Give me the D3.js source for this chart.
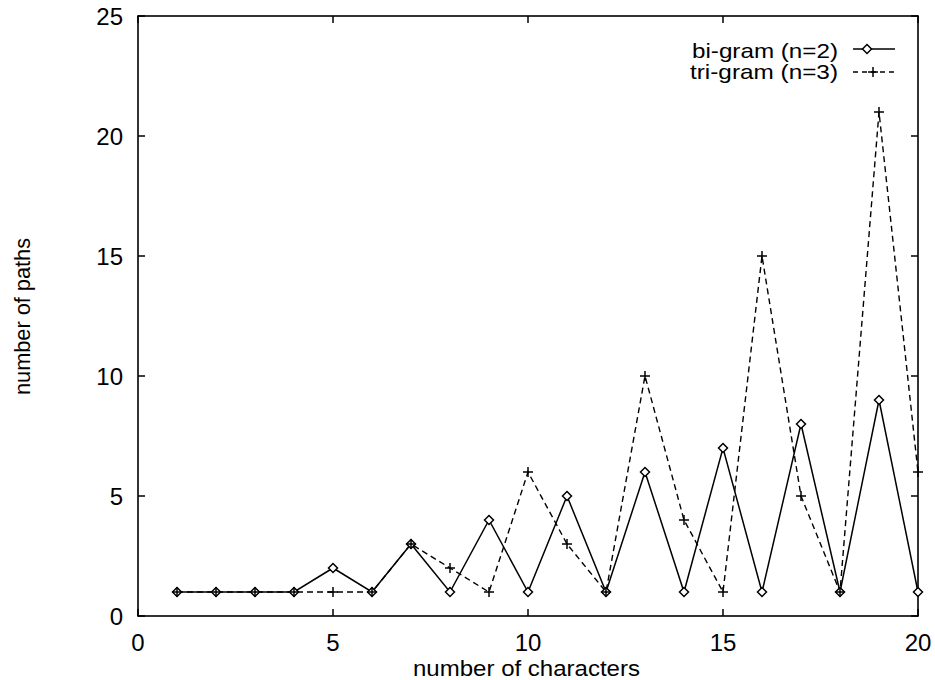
<!DOCTYPE html>
<html><head><meta charset="utf-8">
<script src="https://cdn.jsdelivr.net/npm/d3@7"></script>
<style>body{margin:0;background:#fff;} svg{display:block;} text{font-family:"Liberation Sans",Arial,sans-serif;fill:#000;}</style>
</head><body>
<svg id="chart" width="935" height="680"></svg>
<script>
const xValues = [1,2,3,4,5,6,7,8,9,10,11,12,13,14,15,16,17,18,19,20];
const bigram = [1,1,1,1,2,1,3,1,4,1,5,1,6,1,7,1,8,1,9,1];
const trigram = [1,1,1,1,1,1,3,2,1,6,3,1,10,4,1,15,5,1,21,6];
const xTicks = [0,5,10,15,20];
const yTicks = [0,5,10,15,20,25];
const seriesNames = ["bi-gram (n=2)", "tri-gram (n=3)"];
const xTitle = "number of characters";
const yTitle = "number of paths";

const svg = d3.select("#chart");
const L = 138, R = 918, T = 16, B = 616;
const x = d3.scaleLinear().domain([0,20]).range([L,R]);
const y = d3.scaleLinear().domain([0,25]).range([B,T]);
const fs = 24;

// frame
svg.append("rect").attr("x",L).attr("y",T).attr("width",R-L).attr("height",B-T)
  .attr("fill","none").attr("stroke","#000").attr("stroke-width",1.6);

// ticks (inward, mirrored)
const tl = 7;
xTicks.forEach(v => {
  svg.append("line").attr("x1",x(v)).attr("x2",x(v)).attr("y1",B).attr("y2",B-tl).attr("stroke","#000").attr("stroke-width",1.5);
  svg.append("line").attr("x1",x(v)).attr("x2",x(v)).attr("y1",T).attr("y2",T+tl).attr("stroke","#000").attr("stroke-width",1.5);
  svg.append("text").attr("x",x(v)).attr("y",642).attr("text-anchor","middle").attr("dominant-baseline","central")
    .attr("font-size",fs).text(v);
});
yTicks.forEach(v => {
  svg.append("line").attr("x1",L).attr("x2",L+tl).attr("y1",y(v)).attr("y2",y(v)).attr("stroke","#000").attr("stroke-width",1.5);
  svg.append("line").attr("x1",R).attr("x2",R-tl).attr("y1",y(v)).attr("y2",y(v)).attr("stroke","#000").attr("stroke-width",1.5);
  svg.append("text").attr("x",123).attr("y",y(v)).attr("text-anchor","end").attr("dominant-baseline","central")
    .attr("font-size",fs).text(v);
});

// titles
svg.append("text").attr("x",413).attr("y",668).attr("dominant-baseline","central")
  .attr("font-size",22).attr("textLength",227).attr("lengthAdjust","spacingAndGlyphs").text(xTitle);
svg.append("text").attr("transform","translate(22,395) rotate(-90)").attr("dominant-baseline","central")
  .attr("font-size",22).attr("textLength",157).attr("lengthAdjust","spacingAndGlyphs").text(yTitle);

const line = d3.line().x(d => x(d[0])).y(d => y(d[1]));
const triData = xValues.map((v,i) => [v, trigram[i]]);
const biData = xValues.map((v,i) => [v, bigram[i]]);

const plot = svg.append("g");
// trigram dashed
plot.append("path").datum(triData).attr("d",line).attr("fill","none").attr("stroke","#000")
  .attr("stroke-width",1.4).attr("stroke-dasharray","6,4");
// bigram solid
plot.append("path").datum(biData).attr("d",line).attr("fill","none").attr("stroke","#000")
  .attr("stroke-width",1.5);

function diamond(g, cx, cy) {
  const s = 4.5;
  g.append("path").attr("d",`M${cx},${cy-s}L${cx+s},${cy}L${cx},${cy+s}L${cx-s},${cy}Z`)
    .attr("fill","#fff").attr("stroke","#000").attr("stroke-width",1.5);
}
function plus(g, cx, cy) {
  const s = 5;
  g.append("path").attr("d",`M${cx-s},${cy}H${cx+s}M${cx},${cy-s}V${cy+s}`)
    .attr("fill","none").attr("stroke","#000").attr("stroke-width",1.5);
}
biData.forEach(d => diamond(plot, x(d[0]), y(d[1])));
triData.forEach(d => plus(plot, x(d[0]), y(d[1])));

// legend
const lg = svg.append("g");
lg.append("text").attr("x",692).attr("y",50).attr("dominant-baseline","central")
  .attr("font-size",21).attr("textLength",146).attr("lengthAdjust","spacingAndGlyphs").text(seriesNames[0]);
lg.append("text").attr("x",690).attr("y",71).attr("dominant-baseline","central")
  .attr("font-size",21).attr("textLength",148).attr("lengthAdjust","spacingAndGlyphs").text(seriesNames[1]);
lg.append("line").attr("x1",853).attr("x2",895).attr("y1",49).attr("y2",49).attr("stroke","#000").attr("stroke-width",1.5);
diamond(lg, 867, 49);
lg.append("line").attr("x1",853).attr("x2",895).attr("y1",72).attr("y2",72).attr("stroke","#000").attr("stroke-width",1.3).attr("stroke-dasharray","5,4");
plus(lg, 873, 72);
</script>
</body></html>
